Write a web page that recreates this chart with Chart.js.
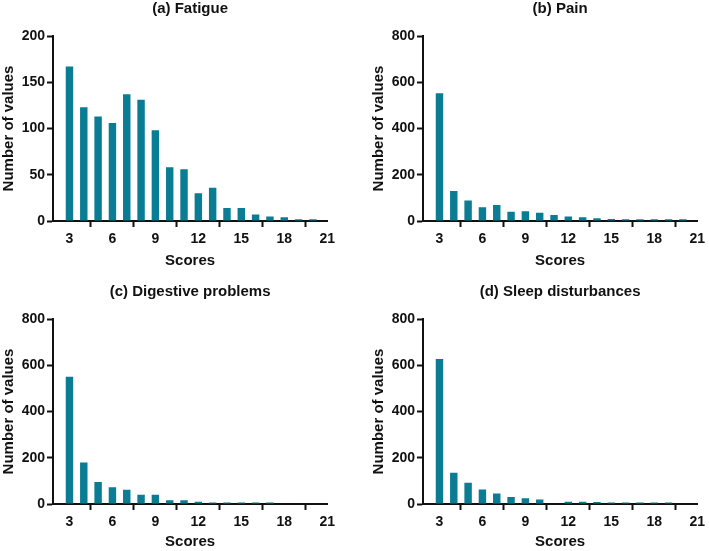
<!DOCTYPE html>
<html>
<head>
<meta charset="utf-8">
<script src="https://cdn.jsdelivr.net/npm/chart.js@4.4.0/dist/chart.umd.min.js"></script>
<style>
  body { margin: 0; background: #fff; }
  #wrap { position: relative; width: 709px; height: 551px; }
  canvas { position: absolute; }
</style>
</head>
<body>
<div id="wrap">
  <canvas id="cA" width="339" height="270" style="left:0;top:0"></canvas>
  <canvas id="cB" width="339" height="270" style="left:370px;top:0"></canvas>
  <canvas id="cC" width="339" height="268" style="left:0;top:283px"></canvas>
  <canvas id="cD" width="339" height="268" style="left:370px;top:283px"></canvas>
</div>
<script>
    // scores 3..20 (x), tick labels on the x axis
    var scores = [3, 4, 5, 6, 7, 8, 9, 10, 11, 12, 13, 14, 15, 16, 17, 18, 19, 20];
    var xTicks = [3, 6, 9, 12, 15, 18, 21];

    var fatigue   = [167, 123, 113, 106, 137, 131, 98, 58, 56, 30, 36, 14, 14, 7, 5, 4, 2, 2];
    var pain      = [552, 130, 89, 59, 69, 40, 42, 36, 26, 19, 16, 12, 9, 8, 8, 8, 8, 8];
    var digestive = [550, 179, 95, 72, 62, 40, 40, 16, 16, 10, 7, 7, 7, 7, 7, 0, 0, 0];
    var sleep     = [627, 135, 92, 63, 45, 30, 25, 19, 0, 10, 10, 9, 7, 7, 7, 7, 7, 0];

    var ticksFatigue = [0, 50, 100, 150, 200];
    var ticksOther   = [0, 200, 400, 600, 800];

    var barColor = '#0a7d94';
    var fontFamily = '"Liberation Sans", Arial, sans-serif';

    Chart.defaults.font.family = fontFamily;
    Chart.defaults.color = '#111';

    function makeChart(id, title, values, yTicks, xHeight) {
        var points = scores.map(function (s, i) { return { x: s, y: values[i] }; });
        return new Chart(document.getElementById(id), {
            type: 'bar',
            data: {
                datasets: [{
                    data: points,
                    backgroundColor: barColor,
                    borderWidth: 0,
                    barPercentage: 0.52,
                    categoryPercentage: 1
                }]
            },
            options: {
                responsive: false,
                animation: false,
                devicePixelRatio: 1,
                layout: { padding: 0 },
                plugins: {
                    legend: { display: false },
                    tooltip: { enabled: false },
                    title: {
                        display: true,
                        text: title,
                        fullSize: false,
                        color: '#111',
                        font: { size: 15, weight: 'bold' },
                        padding: { top: 0, bottom: 18 }
                    }
                },
                scales: {
                    x: {
                        type: 'linear',
                        min: 1.85,
                        max: 21,
                        offset: false,
                        afterBuildTicks: function (scale) {
                            scale.ticks = xTicks.map(function (v) { return { value: v }; });
                        },
                        afterFit: function (scale) { scale.height = xHeight; },
                        grid: {
                            display: true,
                            drawOnChartArea: false,
                            drawTicks: true,
                            tickLength: 6,
                            tickWidth: 2,
                            tickColor: '#111'
                        },
                        border: { display: true, color: '#111', width: 2 },
                        ticks: {
                            padding: 4,
                            maxRotation: 0,
                            autoSkip: false,
                            color: '#111',
                            font: { size: 14, weight: 'bold' }
                        },
                        title: {
                            display: true,
                            text: 'Scores',
                            color: '#111',
                            font: { size: 15, weight: 'bold' },
                            padding: 0
                        }
                    },
                    y: {
                        min: yTicks[0],
                        max: yTicks[yTicks.length - 1],
                        afterBuildTicks: function (scale) {
                            scale.ticks = yTicks.map(function (v) { return { value: v }; });
                        },
                        afterFit: function (scale) { scale.width = 53; },
                        grid: {
                            display: true,
                            drawOnChartArea: false,
                            drawTicks: true,
                            tickLength: 6,
                            tickWidth: 2,
                            tickColor: '#111'
                        },
                        border: { display: true, color: '#111', width: 2 },
                        ticks: {
                            padding: 2,
                            color: '#111',
                            font: { size: 14, weight: 'bold' }
                        },
                        title: {
                            display: true,
                            text: 'Number of values',
                            color: '#111',
                            font: { size: 15, weight: 'bold' },
                            padding: 0
                        }
                    }
                }
            }
        });
    }

    makeChart('cA', '(a) Fatigue', fatigue, ticksFatigue, 49);
    makeChart('cB', '(b) Pain', pain, ticksOther, 49);
    makeChart('cC', '(c) Digestive problems', digestive, ticksOther, 47);
    makeChart('cD', '(d) Sleep disturbances', sleep, ticksOther, 47);
</script>
</body>
</html>
